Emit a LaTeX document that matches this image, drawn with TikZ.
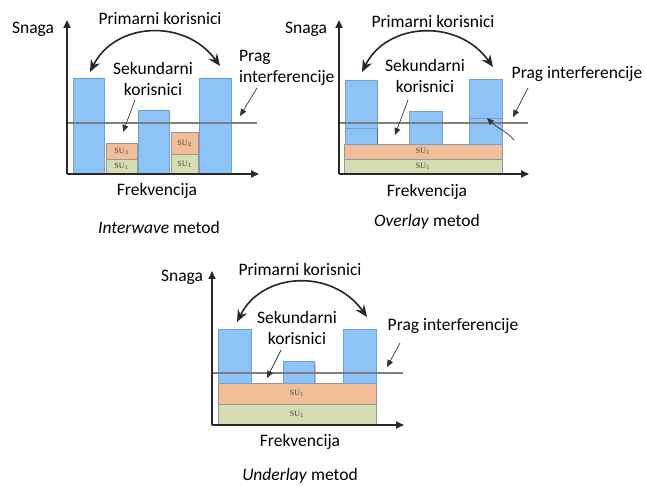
\documentclass[tikz,border=0pt]{standalone}
\usepackage{fontspec}
\setmainfont{Carlito}
\newfontfamily\sulabel{Liberation Serif}
\usetikzlibrary{arrows.meta}
\definecolor{barblue}{RGB}{142,195,247}
\definecolor{baredge}{RGB}{110,160,215}
\definecolor{suorange}{RGB}{242,190,152}
\definecolor{sugreen}{RGB}{213,221,179}
\definecolor{suedge}{RGB}{150,150,150}
\definecolor{axiscol}{RGB}{40,40,40}
\definecolor{threshcol}{RGB}{125,125,125}
\tikzset{
  lbl/.style={font=\fontsize{17.5}{20.5}\selectfont, inner sep=0pt, text=black},
  axisline/.style={draw=axiscol, line width=1.8pt, -{Triangle[length=8pt,width=7pt]}},
  thresh/.style={draw=threshcol, line width=1.2pt},
  pubar/.style={fill=barblue, draw=baredge, line width=0.6pt},
  orangebox/.style={fill=suorange, draw=suedge, line width=0.6pt},
  greenbox/.style={fill=sugreen, draw=suedge, line width=0.6pt},
  sutext/.style={font=\sulabel\fontsize{8}{8}\selectfont, text=black!75, inner sep=0pt},
  swing/.style={draw=black!85, line width=1.6pt, {Stealth[length=12pt,width=10pt]}-{Stealth[length=12pt,width=10pt]}},
  pointer/.style={draw=black!80, line width=0.7pt, -{Triangle[length=7pt,width=6pt]}},
}
\begin{document}
\begin{tikzpicture}[x=1pt,y=-1pt]
\useasboundingbox (0,0) rectangle (646,486);

% ---------------- Interwave ----------------
\fill[pubar] (73,78) rectangle (104,174);
\fill[pubar] (138,110) rectangle (169,174);
\fill[pubar] (199,78) rectangle (231,174);
\filldraw[greenbox] (106,159) rectangle (137,174);
\filldraw[orangebox] (106,143) rectangle (137,159);
\filldraw[greenbox] (171,154) rectangle (198,174);
\filldraw[orangebox] (171,132) rectangle (198,154);
\node[sutext] (a1) at (121.5,166.5) {SU$_1$};
\node[sutext] (a3) at (121.5,151) {SU$_3$};
\node[sutext] (b1) at (184.5,164) {SU$_1$};
\node[sutext] (b2) at (184.5,143) {SU$_2$};
\draw[thresh] (67,123) -- (257,123);
\coordinate (o1) at (67,174);
\coordinate (yt1) at (67,20);
\coordinate (xt1) at (259,174);
\draw[axisline] (o1) -- (yt1);
\draw[axisline] (o1) -- (xt1);
\node[lbl] (snaga1) at (33,29) {Snaga};
\node[lbl] (prim1) at (160,18) {Primarni korisnici};
\coordinate (l1) at (90,72);
\coordinate (r1) at (220,66);
\draw[swing] (l1) .. controls (115,22) and (185,18) .. (r1);
\node[lbl, align=center] (sek1) at (153,79) {Sekundarni\\korisnici};
\coordinate (s1a) at (135,100);
\coordinate (s1b) at (123,132);
\draw[pointer] (s1a) -- (s1b);
\node[lbl, align=left, anchor=west] (prag1) at (239,68) {Prag\\interferencije};
\coordinate (p1a) at (257,88);
\coordinate (p1b) at (240,116);
\draw[pointer] (p1a) -- (p1b);
\node[lbl] (frek1) at (157,191) {Frekvencija};
\node[lbl] (met1) at (159,227) {\textit{Interwave} metod};

% ---------------- Overlay ----------------
\filldraw[greenbox] (344,159) rectangle (502,174);
\filldraw[orangebox] (344,144) rectangle (502,159);
\node[sutext] (c1) at (423,166.5) {SU$_1$};
\node[sutext] (c2) at (423,151.5) {SU$_1$};
\fill[pubar] (345,80) rectangle (377,144);
\draw[baredge, line width=0.8pt] (345,128) -- (377,128);
\draw[black!60, line width=0.8pt] (377,128) -- (377,144);
\fill[pubar] (409,111) rectangle (442,144);
\fill[pubar] (469,79) rectangle (502,144);
\draw[baredge, line width=0.8pt] (469,118) -- (502,118);
\draw[thresh] (339,123) -- (528,123);
\coordinate (o2) at (339,174);
\coordinate (yt2) at (339,20);
\coordinate (xt2) at (529,174);
\draw[axisline] (o2) -- (yt2);
\draw[axisline] (o2) -- (xt2);
\node[lbl] (snaga2) at (306,29) {Snaga};
\node[lbl] (prim2) at (433,21) {Primarni korisnici};
\coordinate (l2) at (362,72);
\coordinate (r2) at (493,67);
\draw[swing] (l2) .. controls (387,22) and (458,18) .. (r2);
\node[lbl, align=center] (sek2) at (425,76) {Sekundarni\\korisnici};
\coordinate (s2a) at (408,100);
\coordinate (s2b) at (395,135);
\draw[pointer] (s2a) -- (s2b);
\node[lbl] (prag2) at (577,74) {Prag interferencije};
\coordinate (p2a) at (528,88);
\coordinate (p2b) at (513,117);
\draw[pointer] (p2a) -- (p2b);
\coordinate (q2a) at (514,140);
\coordinate (q2b) at (487,118);
\draw[pointer] (q2a) .. controls (505,130) and (497,128) .. (q2b);
\node[lbl] (frek2) at (427,192) {Frekvencija};
\node[lbl] (met2) at (427,222) {\textit{Overlay} metod};

% ---------------- Underlay ----------------
\filldraw[greenbox] (218,404) rectangle (376,424);
\filldraw[orangebox] (218,383) rectangle (376,404);
\node[sutext] (d1) at (297,414) {SU$_1$};
\node[sutext] (d2) at (297,393.5) {SU$_1$};
\fill[pubar] (218,329) rectangle (251,383);
\fill[black!25] (286,364) rectangle (316,383);
\fill[pubar] (283,361) rectangle (314,383);
\fill[pubar] (343,329) rectangle (376,383);
\draw[thresh] (212,373) -- (403,373);
\coordinate (o3) at (212,425);
\coordinate (yt3) at (212,271);
\coordinate (xt3) at (404,425);
\draw[axisline] (o3) -- (yt3);
\draw[axisline] (o3) -- (xt3);
\node[lbl] (snaga3) at (182,277) {Snaga};
\node[lbl] (prim3) at (300,269) {Primarni korisnici};
\coordinate (l3) at (237,322);
\coordinate (r3) at (367,317);
\draw[swing] (l3) .. controls (262,272) and (332,268) .. (r3);
\node[lbl, align=center] (sek3) at (297,328) {Sekundarni\\korisnici};
\coordinate (s3a) at (281,350);
\coordinate (s3b) at (267,378);
\draw[pointer] (s3a) -- (s3b);
\node[lbl] (prag3) at (453,326) {Prag interferencije};
\coordinate (p3a) at (400,343);
\coordinate (p3b) at (387,367);
\draw[pointer] (p3a) -- (p3b);
\node[lbl] (frek3) at (300,442) {Frekvencija};
\node[lbl] (met3) at (300,476) {\textit{Underlay} metod};
\end{tikzpicture}
\end{document}
